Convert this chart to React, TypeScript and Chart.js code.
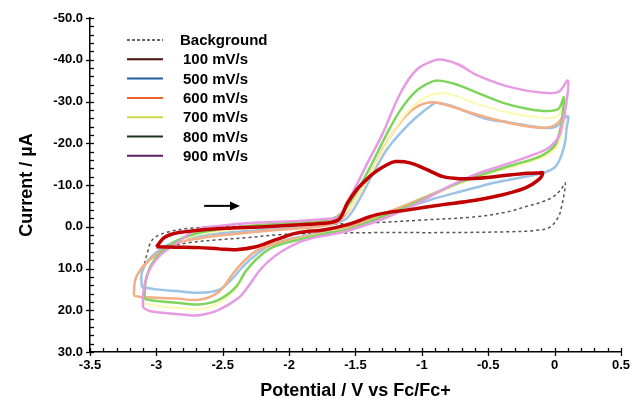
import React, { useEffect, useRef } from 'react';
import { Chart, registerables } from 'chart.js';

Chart.register(...registerables);

// ---- axis ranges / labels ----
const xTitle = 'Potential / V vs Fc/Fc+';
const yTitle = 'Current / µA';
const xMin = -3.5, xMax = 0.5, xStep = 0.5, xMinor = 0.1;
const yMin = -50, yMax = 30, yStep = 10, yMinor = 2;

const legendNames = ['Background', '100 mV/s', '500 mV/s', '600 mV/s', '700 mV/s', '800 mV/s', '900 mV/s'];

// ---- series: potential (V) and current (µA) ----
const bgV = [-3.10, -3.07, -3.03, -2.93, -2.73, -2.4, -2.0, -1.6, -1.34, -1.0, -0.59, -0.35, -0.22, -0.10, -0.01, 0.05, 0.08, 0.07, 0.05, 0.03, -0.04, -0.15, -0.34, -0.84, -1.34, -1.8, -2.08, -2.31, -2.53, -2.75, -2.92, -3.03, -3.08, -3.10];
const bgI = [10.3, 6.5, 3.1, 1.4, 0.3, -0.1, -0.4, -0.7, -1.0, -1.6, -2.4, -3.6, -4.8, -5.9, -7.2, -9.0, -10.5, -7.5, -4.5, -2.4, 0.2, 0.9, 1.2, 1.4, 1.4, 1.6, 1.9, 2.6, 3.1, 3.8, 5.0, 7.0, 8.8, 10.3];

const v100 = [-3.00, -2.94, -2.83, -2.55, -2.18, -1.85, -1.69, -1.63, -1.60, -1.56, -1.49, -1.42, -1.36, -1.26, -1.20, -1.09, -0.97, -0.84, -0.70, -0.59, -0.45, -0.34, -0.20, -0.12, -0.09, -0.12, -0.22, -0.35, -0.46, -0.65, -0.84, -1.09, -1.34, -1.56, -1.73, -1.93, -2.10, -2.25, -2.40, -2.53, -2.68, -2.85, -3.00];
const i100 = [4.8, 2.6, 1.4, 0.5, 0.0, -0.6, -1.0, -1.6, -2.9, -5.7, -8.9, -11.2, -12.9, -14.9, -15.6, -15.3, -13.8, -12.0, -11.5, -11.6, -12.0, -12.4, -12.8, -12.9, -12.9, -11.3, -9.3, -8.0, -7.2, -6.1, -5.3, -4.1, -2.9, -0.5, 0.7, 1.4, 3.1, 4.8, 5.5, 5.3, 5.0, 4.9, 4.8];

const v500 = [-3.11, -3.11, -3.06, -2.95, -2.80, -2.60, -2.40, -2.20, -2.00, -1.80, -1.65, -1.56, -1.48, -1.38, -1.27, -1.16, -1.04, -0.92, -0.89, -0.78, -0.66, -0.51, -0.34, -0.09, 0.01, 0.10, 0.09, 0.08, 0.05, 0.00, -0.10, -0.30, -0.50, -0.70, -0.90, -1.10, -1.30, -1.45, -1.56, -1.80, -2.00, -2.15, -2.28, -2.36, -2.43, -2.53, -2.68, -2.85, -3.00, -3.11];
const i500 = [14.5, 11.0, 8.0, 5.0, 3.0, 1.8, 1.2, 0.8, 0.4, 0.0, -0.8, -2.2, -6.0, -12.0, -18.2, -22.5, -26.3, -29.3, -29.7, -29.0, -27.5, -25.8, -25.0, -23.7, -24.0, -26.5, -23.5, -20.5, -17.0, -14.2, -12.8, -11.5, -10.2, -8.5, -6.8, -4.7, -2.4, -0.6, 0.4, 1.7, 3.0, 4.6, 7.5, 10.0, 12.5, 15.1, 15.8, 15.4, 15.0, 14.5];

const v600 = [-3.17, -3.16, -3.12, -3.05, -2.92, -2.80, -2.68, -2.50, -2.30, -2.10, -1.90, -1.70, -1.62, -1.55, -1.45, -1.35, -1.25, -1.15, -1.05, -0.93, -0.80, -0.60, -0.40, -0.20, -0.05, 0.03, 0.08, 0.06, 0.03, -0.05, -0.20, -0.40, -0.60, -0.80, -1.00, -1.20, -1.40, -1.56, -1.81, -2.06, -2.23, -2.33, -2.43, -2.53, -2.68, -2.85, -3.00, -3.12, -3.17];
const i600 = [16.5, 12.8, 10.3, 7.9, 5.0, 3.5, 2.8, 2.0, 1.4, 0.8, 0.3, -0.5, -1.5, -4.0, -9.0, -15.0, -21.0, -25.5, -28.5, -29.8, -29.0, -27.0, -25.3, -24.0, -23.8, -25.0, -27.5, -24.0, -20.5, -17.8, -15.8, -13.8, -11.8, -9.4, -6.8, -4.2, -1.8, 0.2, 1.9, 3.6, 5.5, 7.9, 11.5, 15.6, 17.5, 17.2, 17.0, 16.8, 16.5];

const v700 = [-3.10, -3.09, -3.05, -2.97, -2.85, -2.70, -2.50, -2.30, -2.10, -1.90, -1.72, -1.62, -1.54, -1.44, -1.34, -1.23, -1.12, -1.00, -0.87, -0.75, -0.59, -0.34, -0.09, 0.02, 0.08, 0.07, 0.05, 0.01, -0.10, -0.30, -0.50, -0.70, -0.90, -1.10, -1.30, -1.45, -1.56, -1.70, -1.93, -2.12, -2.24, -2.32, -2.40, -2.53, -2.68, -2.85, -3.00, -3.10];
const i700 = [18.3, 14.0, 10.0, 6.5, 3.8, 2.0, 1.0, 0.3, -0.3, -0.8, -1.3, -2.2, -4.5, -9.5, -15.5, -22.0, -27.0, -30.5, -32.0, -31.4, -29.5, -27.3, -26.1, -26.5, -30.0, -26.0, -22.0, -18.8, -16.5, -14.5, -12.6, -10.5, -7.8, -4.9, -2.3, -0.4, 0.6, 1.3, 3.0, 4.9, 7.5, 10.5, 14.8, 18.3, 19.8, 19.4, 18.9, 18.3];

const v800 = [-3.09, -3.08, -3.04, -2.96, -2.85, -2.70, -2.50, -2.30, -2.10, -1.90, -1.72, -1.64, -1.57, -1.47, -1.37, -1.26, -1.16, -1.05, -0.95, -0.88, -0.75, -0.59, -0.40, -0.20, -0.05, 0.03, 0.07, 0.06, 0.04, 0.00, -0.10, -0.30, -0.50, -0.70, -0.90, -1.10, -1.30, -1.45, -1.56, -1.69, -1.93, -2.13, -2.25, -2.33, -2.40, -2.53, -2.68, -2.85, -3.00, -3.09];
const i800 = [17.3, 13.0, 9.2, 6.0, 3.4, 1.6, 0.5, -0.2, -0.7, -1.1, -1.6, -2.4, -4.5, -9.5, -15.5, -22.5, -28.0, -32.3, -34.4, -35.0, -34.2, -32.2, -29.8, -28.2, -27.7, -28.3, -31.0, -27.0, -23.0, -19.5, -17.0, -14.9, -13.0, -10.8, -8.0, -5.0, -2.4, -0.5, 0.7, 1.4, 3.1, 5.0, 7.9, 10.8, 14.4, 17.5, 18.6, 18.2, 17.8, 17.3];

const v900 = [-3.10, -3.10, -3.08, -3.04, -2.96, -2.84, -2.70, -2.53, -2.23, -1.93, -1.71, -1.63, -1.60, -1.49, -1.41, -1.30, -1.16, -1.04, -0.91, -0.84, -0.72, -0.59, -0.34, -0.09, 0.03, 0.10, 0.09, 0.06, 0.03, -0.05, -0.20, -0.40, -0.60, -0.80, -1.00, -1.15, -1.30, -1.45, -1.56, -1.69, -1.81, -1.93, -2.06, -2.16, -2.23, -2.31, -2.38, -2.53, -2.68, -2.78, -2.95, -3.05, -3.10];
const i900 = [19.4, 16.3, 12.7, 9.6, 6.5, 3.8, 0.7, -0.2, -1.0, -1.4, -1.9, -2.2, -3.6, -10.1, -15.3, -22.0, -32.1, -37.6, -39.8, -40.0, -38.8, -36.4, -33.5, -32.1, -32.3, -35.0, -30.0, -25.0, -21.5, -18.8, -16.8, -14.6, -12.5, -9.6, -6.2, -3.8, -1.8, -0.1, 1.0, 1.9, 2.6, 3.8, 6.0, 8.4, 10.8, 14.4, 17.0, 19.9, 21.2, 21.1, 20.6, 20.2, 19.4];

// scan-direction arrow (potential from → to, at current)
const arrowFromV = -2.64, arrowToV = -2.37, arrowI = -5.0;

const FONT = '"Liberation Sans", Arial, Helvetica, sans-serif';

const series = [
  { name: legendNames[0], v: bgV, i: bgI, color: '#555555', legendColor: '#666666', width: 1.5, dash: [3, 3], order: 6 },
  { name: legendNames[1], v: v100, i: i100, color: '#C00000', legendColor: '#4B0C0C', width: 3.5, dash: [], order: 0 },
  { name: legendNames[2], v: v500, i: i500, color: '#9DC3E6', legendColor: '#1F5F9F', width: 2.5, dash: [], order: 5 },
  { name: legendNames[3], v: v600, i: i600, color: '#F4AE85', legendColor: '#F0602A', width: 2.5, dash: [], order: 4 },
  { name: legendNames[4], v: v700, i: i700, color: '#FCFAB0', legendColor: '#D2D84A', width: 2, dash: [], order: 3 },
  { name: legendNames[5], v: v800, i: i800, color: '#7ED45C', legendColor: '#1C3320', width: 2.5, dash: [], order: 2 },
  { name: legendNames[6], v: v900, i: i900, color: '#E69BE3', legendColor: '#5E1E63', width: 2.5, dash: [], order: 1 },
];

const decorPlugin = {
  id: 'decor',
  afterDraw(chart: any) {
    const { ctx, chartArea, scales } = chart;
    const xs = scales.x, ys = scales.y;
    ctx.save();
    ctx.strokeStyle = '#000';
    ctx.lineWidth = 1.3;
    // x ticks
    const y0 = chartArea.bottom;
    const nx = Math.round((xMax - xMin) / xMinor);
    for (let k = 0; k <= nx; k++) {
      const v = xMin + k * xMinor;
      const px = Math.round(xs.getPixelForValue(v)) + 0.5;
      const major = k % Math.round(xStep / xMinor) === 0;
      ctx.beginPath();
      ctx.moveTo(px, major ? y0 + 4 : y0);
      ctx.lineTo(px, y0 - 4);
      ctx.stroke();
    }
    // y ticks
    const x0 = chartArea.left;
    const ny = Math.round((yMax - yMin) / yMinor);
    for (let k = 0; k <= ny; k++) {
      const v = yMin + k * yMinor;
      const py = Math.round(ys.getPixelForValue(v)) + 0.5;
      const major = k % Math.round(yStep / yMinor) === 0;
      ctx.beginPath();
      ctx.moveTo(major ? x0 - 4 : x0, py);
      ctx.lineTo(x0 + 4, py);
      ctx.stroke();
    }
    // arrow
    const ax1 = xs.getPixelForValue(arrowFromV);
    const ax2 = xs.getPixelForValue(arrowToV);
    const ay = ys.getPixelForValue(arrowI);
    ctx.lineWidth = 2;
    ctx.beginPath();
    ctx.moveTo(ax1, ay);
    ctx.lineTo(ax2 - 8, ay);
    ctx.stroke();
    ctx.fillStyle = '#000';
    ctx.beginPath();
    ctx.moveTo(ax2, ay);
    ctx.lineTo(ax2 - 10, ay - 4.5);
    ctx.lineTo(ax2 - 10, ay + 4.5);
    ctx.closePath();
    ctx.fill();
    // legend
    const lx1 = 127, lx2 = 163, tx = 181;
    const ly0 = 40, dy = 19.3;
    ctx.font = `bold 15px ${FONT}`;
    ctx.textBaseline = 'middle';
    ctx.textAlign = 'left';
    series.forEach((s, k) => {
      const ly = ly0 + k * dy;
      ctx.save();
      ctx.strokeStyle = s.legendColor;
      ctx.lineWidth = 2;
      ctx.setLineDash(s.dash.length ? [3, 2] : []);
      ctx.beginPath();
      ctx.moveTo(lx1, ly);
      ctx.lineTo(lx2, ly);
      ctx.stroke();
      ctx.restore();
      ctx.fillStyle = '#000';
      ctx.fillText(s.name, k === 0 ? tx - 1 : tx + 2, ly + 1);
    });
    ctx.restore();
  },
};

export default function App() {
  const ref = useRef<HTMLCanvasElement | null>(null);
  useEffect(() => {
    document.body.style.margin = '0';
    const canvas = ref.current;
    if (!canvas) return;
    const chart = new Chart(canvas, {
      type: 'scatter',
      data: {
        datasets: series.map((s) => ({
          label: s.name,
          data: s.v.map((x, k) => ({ x, y: s.i[k] })),
          showLine: true,
          borderColor: s.color,
          backgroundColor: s.color,
          borderWidth: s.width,
          borderDash: s.dash,
          pointRadius: 0,
          pointHoverRadius: 0,
          tension: 0.35,
          fill: false,
          order: s.order,
        })),
      },
      options: {
        animation: false,
        responsive: false,
        maintainAspectRatio: false,
        devicePixelRatio: 1,
        layout: { padding: { top: 18, right: 10, left: 0, bottom: 0 } },
        plugins: { legend: { display: false }, tooltip: { enabled: false } },
        events: [],
        scales: {
          x: {
            type: 'linear',
            min: xMin,
            max: xMax,
            grid: { display: false, drawTicks: false },
            border: { display: true, color: '#000', width: 1.5 },
            ticks: {
              stepSize: xStep,
              autoSkip: false,
              maxRotation: 0,
              padding: 6,
              color: '#000',
              font: { family: FONT, size: 13, weight: 'bold' },
              callback: (v: any) => {
                const r = Math.round(Number(v) * 10) / 10;
                return r === 0 ? '0' : String(r);
              },
            },
            title: {
              display: true,
              text: xTitle,
              color: '#000',
              font: { family: FONT, size: 18, weight: 'bold' },
              padding: { top: 0, bottom: 0 },
            },
            afterFit: (s: any) => { s.height = 50; },
          },
          y: {
            type: 'linear',
            min: yMin,
            max: yMax,
            reverse: true,
            grid: { display: false, drawTicks: false },
            border: { display: true, color: '#000', width: 1.5 },
            ticks: {
              stepSize: yStep,
              padding: 7,
              color: '#000',
              font: { family: FONT, size: 13, weight: 'bold' },
              callback: (v: any) => Number(v).toFixed(1),
            },
            title: {
              display: true,
              text: yTitle,
              color: '#000',
              font: { family: FONT, size: 18, weight: 'bold' },
              padding: { top: 16, bottom: 0 },
            },
            afterFit: (s: any) => { s.width = 90; },
          },
        },
      } as any,
      plugins: [decorPlugin],
    });
    return () => chart.destroy();
  }, []);
  return (
    <div style={{ width: 636, height: 402, background: '#fff' }}>
      <canvas ref={ref} width={636} height={402} style={{ width: 636, height: 402, display: 'block' }} />
    </div>
  );
}
